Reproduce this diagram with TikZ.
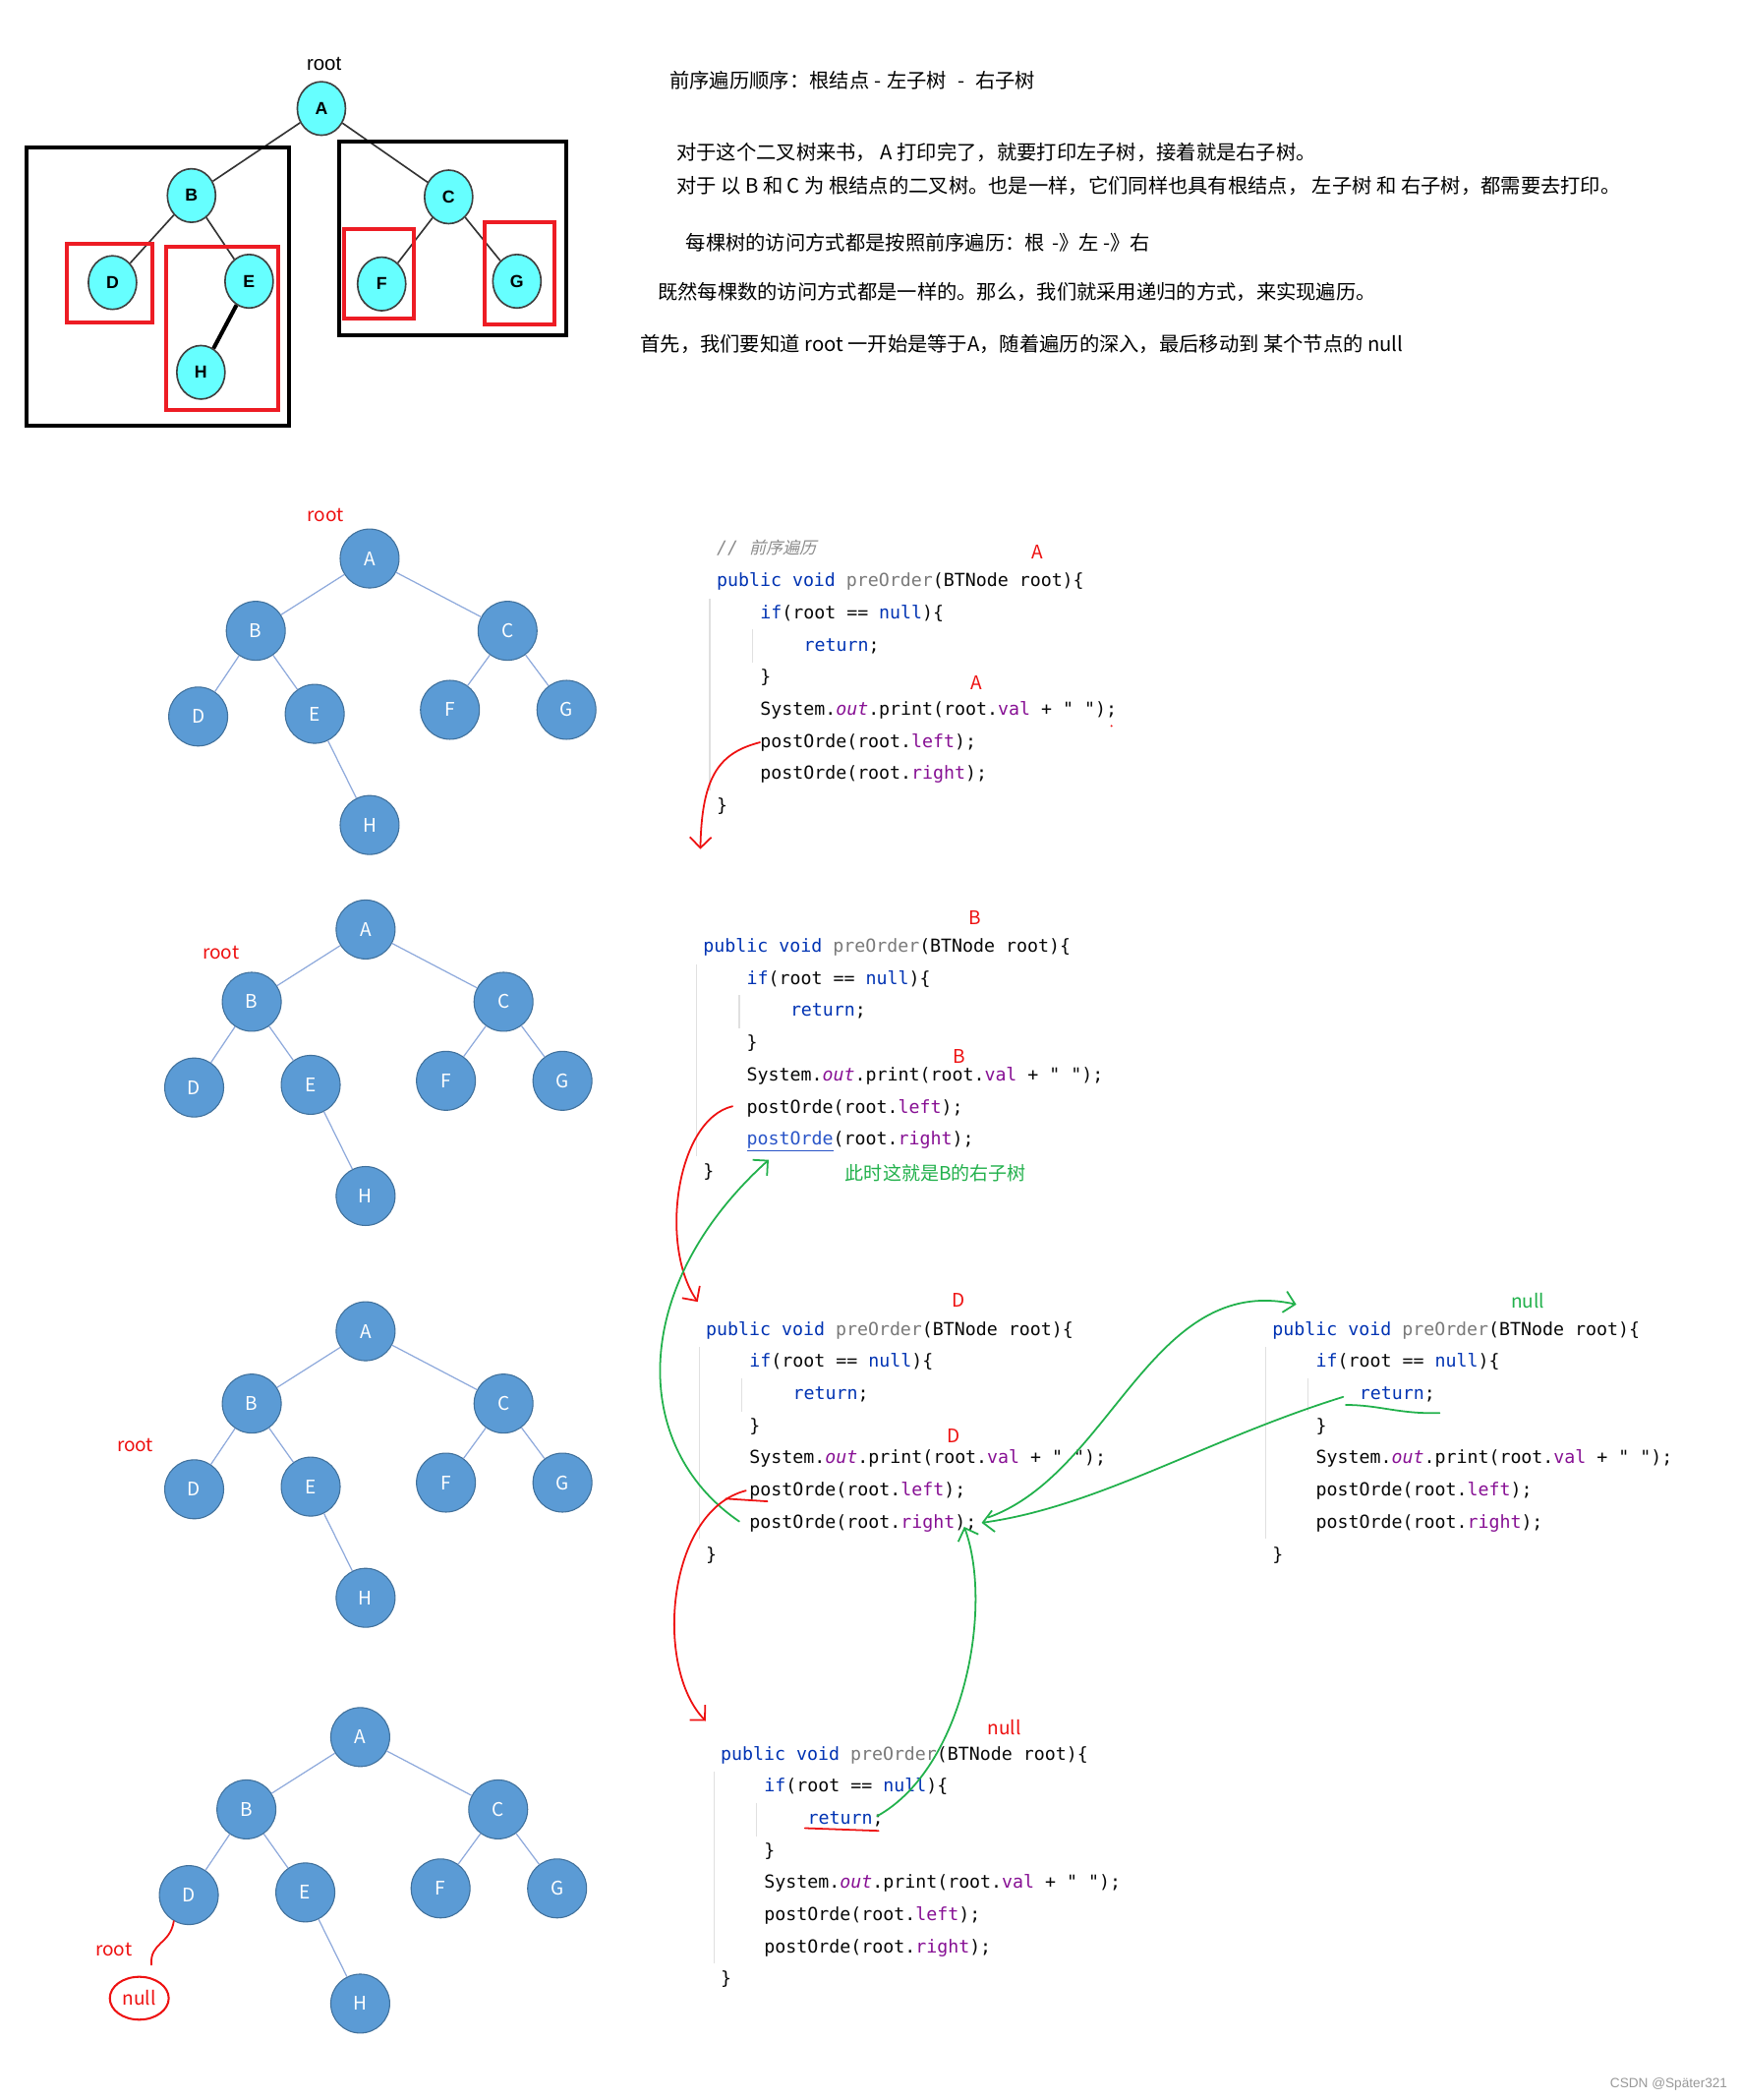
\documentclass[tikz,border=0pt]{standalone}
\usepackage{fontspec}
\usetikzlibrary{arrows.meta,shapes.geometric}
\setmainfont{Liberation Sans}
\setmonofont{DejaVu Sans Mono}
\newfontfamily\cjk{Noto Sans CJK SC}
\newfontfamily\cjkit[FakeSlant=0.25]{Noto Sans CJK SC}
\definecolor{topcyan}{HTML}{66FFFF}
\definecolor{bfill}{HTML}{5B9BD5}
\definecolor{bborder}{HTML}{41719C}
\definecolor{bedgec}{HTML}{8FAADC}
\definecolor{boxred}{HTML}{ED1C24}
\definecolor{penred}{HTML}{EE1111}
\definecolor{pengreen}{HTML}{22B14C}
\definecolor{kwblue}{HTML}{0033B3}
\definecolor{fngray}{HTML}{7A7A7A}
\definecolor{fldpurple}{HTML}{871094}
\definecolor{codeblack}{HTML}{080808}
\definecolor{cmgray}{HTML}{8C8C8C}
\definecolor{linkblue}{HTML}{2A55C8}
\newcommand\ckw[1]{\textcolor{kwblue}{#1}}
\newcommand\cfn[1]{\textcolor{fngray}{#1}}
\newcommand\cfld[1]{\textcolor{fldpurple}{#1}}
\newcommand\CodeBlock[4]{%
  \draw[guide] ({#2-5},{#3+9}) -- ({#2-5},{#3+152});
  \draw[guide] ({#2+27},{#3+32}) -- ({#2+27},{#3+57});
  \node[codeline] (#1l1) at (#2,#3) {\ckw{public} \ckw{void} \cfn{preOrder}(BTNode root)\{};
  \node[codeline] (#1l2) at ({#2+32.5},{#3+24}) {\ckw{if}(root == \ckw{null})\{};
  \node[codeline] (#1l3) at ({#2+65},{#3+48}) {\ckw{return};};
  \node[codeline] (#1l4) at ({#2+32.5},{#3+72}) {\}};
  \node[codeline] (#1l5) at ({#2+32.5},{#3+96}) {System.\cfld{\itshape out}.print(root.\cfld{val} + " ");};
  \node[codeline] (#1l6) at ({#2+32.5},{#3+120}) {postOrde(root.\cfld{left});};
  \node[codeline] (#1l7) at ({#2+32.5},{#3+144}) {#4(root.\cfld{right});};
  \node[codeline] (#1l8) at (#2,{#3+168}) {\}};
}
\newcommand\BlueTree[3]{%
  \node[bnode] (#1A) at (#2,#3) {A};
  \node[bnode] (#1B) at ({#2-85},{#3+54}) {B};
  \node[bnode] (#1C) at ({#2+103},{#3+54}) {C};
  \node[bnode] (#1D) at ({#2-128},{#3+118}) {D};
  \node[bnode] (#1E) at ({#2-41},{#3+116}) {E};
  \node[bnode] (#1F) at ({#2+60},{#3+113}) {F};
  \node[bnode] (#1G) at ({#2+147},{#3+113}) {G};
  \node[bnode] (#1H) at (#2,{#3+199}) {H};
  \draw[bedge] (#1A) -- (#1B);
  \draw[bedge] (#1A) -- (#1C);
  \draw[bedge] (#1B) -- (#1D);
  \draw[bedge] (#1B) -- (#1E);
  \draw[bedge] (#1C) -- (#1F);
  \draw[bedge] (#1C) -- (#1G);
  \draw[bedge] (#1E) -- (#1H);
}
\begin{document}
\begin{tikzpicture}[x=1pt,y=-1pt,
  cnode/.style={ellipse, draw=black!75, line width=1.2pt, fill=topcyan, minimum width=36pt, minimum height=40pt, inner sep=0pt, font=\bfseries\fontsize{13}{15}\selectfont},
  bnode/.style={circle, draw=bborder, line width=0.8pt, fill=bfill, minimum size=44pt, inner sep=0pt, text=white, font=\cjk\fontsize{14}{16}\selectfont},
  bedge/.style={draw=bedgec, line width=0.9pt},
  tedge/.style={draw=black!80, line width=1.2pt},
  blackbox/.style={draw=black, line width=3pt},
  redbox/.style={draw=boxred, line width=3pt},
  txt/.style={anchor=west, inner sep=0pt, font=\cjk\fontsize{14.9}{17}\selectfont},
  codeline/.style={anchor=base west, inner sep=0pt, font=\ttfamily\fontsize{13.4}{16}\selectfont, text=codeblack},
  rednote/.style={text=penred, inner sep=0pt, font=\cjk\fontsize{14}{16}\selectfont},
  greennote/.style={text=pengreen, inner sep=0pt, font=\cjk\fontsize{14}{16}\selectfont},
  redpen/.style={draw=penred, line width=1.3pt, line cap=round, line join=round},
  greenpen/.style={draw=pengreen, line width=1.3pt, line cap=round, line join=round},
  handtip/.style={-{Straight Barb[length=8pt,width=16pt]}},
  guide/.style={draw=black!12, line width=0.8pt}]
\useasboundingbox (0,0) rectangle (1300,1568);
\fill[white] (0,0) rectangle (1300,1568);

% ---------- top tree ----------
\node[font=\fontsize{15}{17}\selectfont, inner sep=0pt] (toproot) at (242,48) {root};
\node[cnode] (A) at (240,81) {A};
\node[cnode] (B) at (143,146) {B};
\node[cnode] (C) at (335,147) {C};
\node[cnode] (D) at (84,211) {D};
\node[cnode] (E) at (186,210) {E};
\node[cnode] (F) at (285,212) {F};
\node[cnode] (G) at (386,210) {G};
\node[cnode] (H) at (150,278) {H};
\draw[tedge] (A) -- (B);
\draw[tedge] (A) -- (C);
\draw[tedge] (B) -- (D);
\draw[tedge] (B) -- (E);
\draw[tedge] (C) -- (F);
\draw[tedge] (C) -- (G);
\draw[draw=black, line width=3pt] (E) -- (H);
\draw[blackbox] (20,110) rectangle (216,318);
\draw[blackbox] (253,106) rectangle (423,250);
\draw[redbox] (50,182) rectangle (114,241);
\draw[redbox] (124,184) rectangle (208,306);
\draw[redbox] (257,171) rectangle (309,238);
\draw[redbox] (362,166) rectangle (414,242);

% ---------- explanation text ----------
\node[txt] (t1) at (500,60) {前序遍历顺序：根结点\hspace{4pt}-\hspace{4pt}左子树\hspace{8pt}-\hspace{8pt}右子树};
\node[txt] (t2) at (505,114) {对于这个二叉树来书， A 打印完了，就要打印左子树，接着就是右子树。};
\node[txt] (t3) at (505,139) {对于 以 B 和 C 为 根结点的二叉树。也是一样，它们同样也具有根结点， 左子树 和 右子树，都需要去打印。};
\node[txt] (t4) at (512,181) {每棵树的访问方式都是按照前序遍历：根 \hspace{2pt}-》左 -》右};
\node[txt] (t5) at (491,218) {既然每棵数的访问方式都是一样的。那么，我们就采用递归的方式，来实现遍历。};
\node[txt] (t6) at (478,257) {首先，我们要知道 root 一开始是等于A，随着遍历的深入，最后移动到 某个节点的 null};

% ---------- blue trees ----------
\BlueTree{p}{276}{417}
\BlueTree{q}{273}{694}
\BlueTree{r}{273}{994}
\BlueTree{s}{269}{1297}
\node[rednote] (root2) at (243,385) {root};
\node[rednote] (root3) at (165,711) {root};
\node[rednote] (root4) at (101,1079) {root};
\node[rednote] (root5) at (85,1456) {root};
\node[rednote, draw=penred, line width=1.5pt, ellipse, minimum width=44pt, minimum height=32pt] (nullnode) at (104,1492) {null};
\coordinate (sq) at (113,1467);
\draw[redpen] (sD.240) .. controls (127,1452) and (112,1450) .. (sq);

% ---------- code blocks ----------
\node[anchor=base west, inner sep=0pt, text=cmgray] (cm) at (535,414) {\ttfamily\itshape\fontsize{13.4}{16}\selectfont //\ \cjkit\fontsize{12.5}{15}\selectfont 前序遍历};
\CodeBlock{a}{535}{438}{postOrde}
\CodeBlock{b}{525}{711}{\textcolor{linkblue}{\underline{postOrde}}}
\CodeBlock{c}{527}{997}{postOrde}
\CodeBlock{d}{950}{997}{postOrde}
\CodeBlock{e}{538}{1314}{postOrde}

\node[rednote] (la1) at (775,412) {A};
\node[rednote] (la2) at (729,510) {A};
\node[rednote] (lb1) at (728,685) {B};
\node[rednote] (lb2) at (716,789) {B};
\node[rednote] (ld1) at (716,971) {D};
\node[rednote] (ld2) at (712,1072) {D};
\node[rednote] (ln1) at (750,1290) {null};
\node[greennote] (ln2) at (1141,971) {null};
\node[greennote, anchor=west] (gtext) at (631,876) {此时这就是B的右子树};
\fill[penred] (830,542) circle (0.8);

% ---------- hand-drawn arrows ----------
\coordinate (e1) at (523,634);
\draw[redpen, handtip] (al6.west) .. controls (538,562) and (524,578) .. (e1);

\coordinate (s2) at (547,826);
\coordinate (e2) at (521,972);
\draw[redpen, handtip] (s2) .. controls (505,836) and (492,930) .. (e2);

\coordinate (s3) at (552,1136);
\coordinate (e3) at (574,866);
\draw[greenpen, handtip] (s3) .. controls (470,1080) and (470,960) .. (e3);

\coordinate (s4) at (557,1113);
\coordinate (e4) at (527,1285);
\draw[redpen, handtip] (s4) .. controls (498,1128) and (488,1245) .. (e4);
\coordinate (u4a) at (542,1119);
\coordinate (u4b) at (573,1121);
\draw[redpen] (u4a) -- (u4b);

\coordinate (s5) at (738,1133);
\coordinate (e5) at (968,974);
\draw[greenpen, handtip] (s5) .. controls (830,1100) and (860,950) .. (e5);

\coordinate (s6) at (1003,1043);
\coordinate (e6) at (733,1137);
\draw[greenpen, handtip] (s6) .. controls (900,1075) and (820,1125) .. (e6);
\coordinate (u6a) at (1005,1049);
\coordinate (u6b) at (1075,1055);
\draw[greenpen] (u6a) .. controls (1030,1049) and (1045,1056) .. (u6b);

\coordinate (s7) at (655,1356);
\coordinate (e7) at (720,1140);
\draw[greenpen, handtip] (s7) .. controls (720,1320) and (742,1200) .. (e7);
\coordinate (u7a) at (601,1365);
\coordinate (u7b) at (656,1367);
\draw[redpen] (u7a) -- (u7b);

\node[anchor=east, inner sep=0pt, text=black!40, font=\fontsize{10}{12}\selectfont] (wm) at (1290,1556) {CSDN @Später321};
\end{tikzpicture}
\end{document}
